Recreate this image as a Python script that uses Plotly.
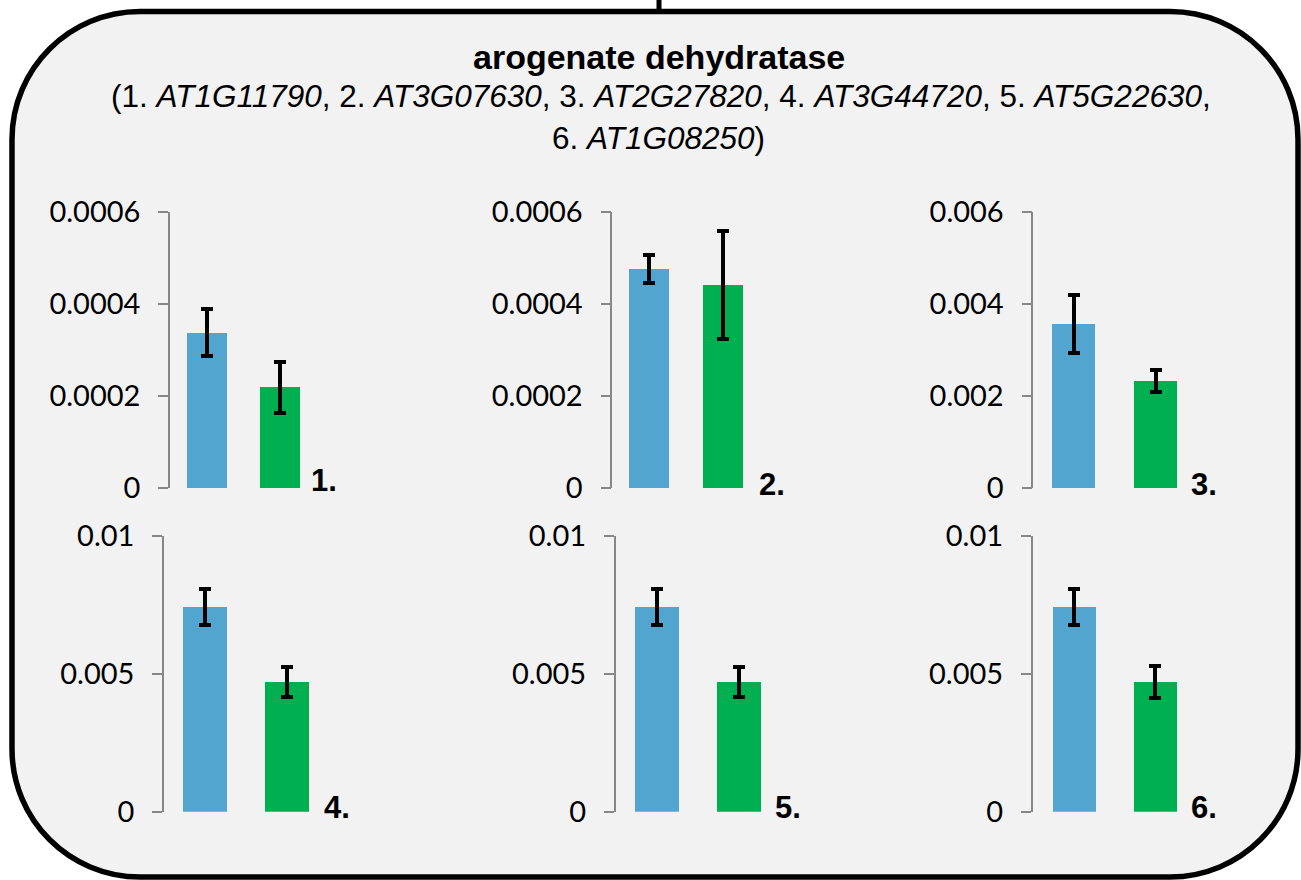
import plotly.graph_objects as go

W, H = 1301, 880

# ---------------- data ----------------
panel_labels = ["1.", "2.", "3.", "4.", "5.", "6."]
categories = [0, 1]
blue_means = [0.000338, 0.000476, 0.00356, 0.00742, 0.00742, 0.00742]
green_means = [0.000219, 0.000441, 0.002325, 0.00470, 0.00470, 0.00470]
blue_err = [0.000052, 0.000031, 0.00063, 0.00064, 0.00065, 0.00065]
green_err = [0.000056, 0.000118, 0.000247, 0.00053, 0.00055, 0.00057]
tickvals_list = [
    [0, 0.0002, 0.0004, 0.0006],
    [0, 0.0002, 0.0004, 0.0006],
    [0, 0.002, 0.004, 0.006],
    [0, 0.005, 0.01],
    [0, 0.005, 0.01],
    [0, 0.005, 0.01],
]
ticktext_list = [
    ["0", "0.0002", "0.0004", "0.0006"],
    ["0", "0.0002", "0.0004", "0.0006"],
    ["0", "0.002", "0.004", "0.006"],
    ["0", "0.005", "0.01"],
    ["0", "0.005", "0.01"],
    ["0", "0.005", "0.01"],
]
title_text = "<b>arogenate dehydratase</b>"
subtitle_line1 = ("(1. <i>AT1G11790</i>, 2. <i>AT3G07630</i>, 3. <i>AT2G27820</i>, "
                  "4. <i>AT3G44720</i>, 5. <i>AT5G22630</i>,")
subtitle_line2 = "6. <i>AT1G08250</i>)"

# ---------------- layout geometry (pixels) ----------------
BLUE = "#52A5CF"
GREEN = "#00B050"
AXIS_GRAY = "#878787"

# axis x, blue centre, green centre, bar width, row top/bottom pixel, label left, label baseline
geom = [
    dict(ax=170.0, cb=207.0, cg=280.0, bw=40.0, top=212.0, bot=488.0, ll=310.7, lb=491.0),
    dict(ax=612.3, cb=649.0, cg=723.0, bw=40.0, top=212.0, bot=488.0, ll=759.3, lb=495.0),
    dict(ax=1033.3, cb=1074.0, cg=1155.9, bw=43.5, top=212.0, bot=488.0, ll=1190.7, lb=495.0),
    dict(ax=164.0, cb=205.0, cg=287.0, bw=44.0, top=535.7, bot=811.7, ll=324.0, lb=818.3),
    dict(ax=615.7, cb=657.0, cg=738.9, bw=43.7, top=535.7, bot=811.7, ll=775.0, lb=818.3),
    dict(ax=1032.7, cb=1074.2, cg=1155.0, bw=43.5, top=535.7, bot=811.7, ll=1190.7, lb=818.3),
]
PANEL_W = 230.0

def px2x(px):
    return px / W

def py2y(py):
    return 1 - py / H

fig = go.Figure()
annotations = []

for i in range(6):
    g = geom[i]
    n = i + 1
    xa = "x" if n == 1 else f"x{n}"
    ya = "y" if n == 1 else f"y{n}"
    spacing = g["cg"] - g["cb"]
    x_lo = (g["ax"] - g["cb"]) / spacing
    x_hi = (g["ax"] + PANEL_W - g["cb"]) / spacing
    bw = g["bw"] / spacing
    ymax = tickvals_list[i][-1]

    fig.add_trace(go.Bar(
        x=categories,
        y=[blue_means[i], green_means[i]],
        width=[bw, bw],
        marker=dict(color=[BLUE, GREEN], line=dict(width=0)),
        error_y=dict(type="data", array=[blue_err[i], green_err[i]],
                     color="black", thickness=4, width=6),
        xaxis=xa, yaxis=ya, showlegend=False, hoverinfo="skip",
    ))

    xkey = "xaxis" if n == 1 else f"xaxis{n}"
    ykey = "yaxis" if n == 1 else f"yaxis{n}"
    fig.update_layout(**{
        xkey: dict(domain=[px2x(g["ax"]), px2x(g["ax"] + PANEL_W)],
                   range=[x_lo, x_hi], anchor=ya, automargin=False,
                   showline=False, showticklabels=False, showgrid=False,
                   zeroline=False, ticks=""),
        ykey: dict(domain=[py2y(g["bot"]), py2y(g["top"])],
                   range=[0, ymax * 1.00001], anchor=xa, automargin=False,
                   showline=True, linecolor=AXIS_GRAY, linewidth=1.6,
                   ticks="outside", ticklen=10, tickcolor=AXIS_GRAY, tickwidth=1.6,
                   tickvals=tickvals_list[i], ticktext=ticktext_list[i],
                   tickfont=dict(family="Lato", size=29, color="black"),
                   ticklabelstandoff=12,
                   showgrid=False, zeroline=False),
    })

    # panel number label
    fs = 31
    center_py = g["lb"] - 0.347 * fs
    annotations.append(dict(
        xref=xa, yref=ya, x=(g["ll"] - g["cb"]) / spacing, y=0,
        xanchor="left", yanchor="middle", xshift=-2,
        yshift=g["bot"] - center_py,
        text=f"<b>{panel_labels[i]}</b>", showarrow=False,
        font=dict(family="Liberation Sans, Arial", size=fs, color="black"),
    ))

# title and subtitle
TS, SS = 34, 31.5
annotations.append(dict(xref="paper", yref="paper", x=px2x(659), y=py2y(69 - 0.347 * TS),
                        xanchor="center", yanchor="middle", text=title_text, showarrow=False,
                        font=dict(family="Liberation Sans, Arial", size=TS, color="black")))
annotations.append(dict(xref="paper", yref="paper", x=px2x(661), y=py2y(107 - 0.347 * SS),
                        xanchor="center", yanchor="middle", text=subtitle_line1, showarrow=False,
                        font=dict(family="Liberation Sans, Arial", size=SS, color="black")))
annotations.append(dict(xref="paper", yref="paper", x=px2x(658), y=py2y(148.5 - 0.347 * SS),
                        xanchor="center", yanchor="middle", text=subtitle_line2, showarrow=False,
                        font=dict(family="Liberation Sans, Arial", size=SS, color="black")))

# rounded box
x0, x1, y0, y1, R = 12.0, 1298.0, 11.5, 877.0, 128.0
k = 0.5523 * R

def P(px, py):
    return f"{px2x(px):.5f},{py2y(py):.5f}"

path = (
    f"M {P(x0 + R, y0)} L {P(x1 - R, y0)} "
    f"C {P(x1 - R + k, y0)} {P(x1, y0 + R - k)} {P(x1, y0 + R)} "
    f"L {P(x1, y1 - R)} "
    f"C {P(x1, y1 - R + k)} {P(x1 - R + k, y1)} {P(x1 - R, y1)} "
    f"L {P(x0 + R, y1)} "
    f"C {P(x0 + R - k, y1)} {P(x0, y1 - R + k)} {P(x0, y1 - R)} "
    f"L {P(x0, y0 + R)} "
    f"C {P(x0, y0 + R - k)} {P(x0 + R - k, y0)} {P(x0 + R, y0)} Z"
)
shapes = [
    dict(type="path", xref="paper", yref="paper", path=path,
         fillcolor="#F2F2F2", line=dict(color="black", width=5.5), layer="below"),
    dict(type="line", xref="paper", yref="paper",
         x0=px2x(659), x1=px2x(659), y0=py2y(0), y1=py2y(y0),
         line=dict(color="black", width=5), layer="below"),
]

fig.update_layout(
    width=W, height=H,
    margin=dict(l=0, r=0, t=0, b=0, pad=0, autoexpand=False),
    paper_bgcolor="white",
    plot_bgcolor="rgba(0,0,0,0)",
    shapes=shapes,
    annotations=annotations,
    bargap=0,
)

fig.write_html("out.html")
